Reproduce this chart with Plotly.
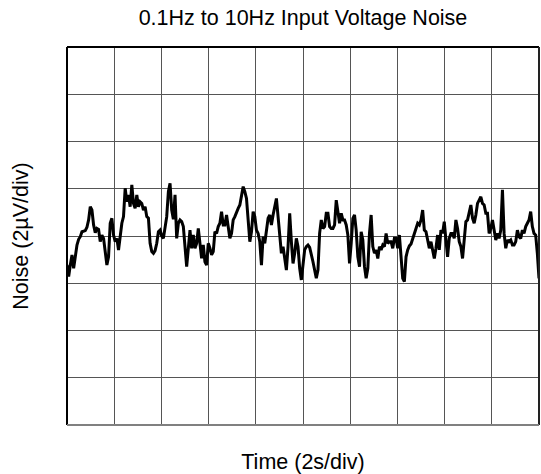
import numpy as np
import plotly.graph_objects as go

# Noise trace in microvolts, sampled uniformly over the 20 s window (10 div x 2 s)
noise_uv = [
    # 0 - 5 s
    -1.23, -1.72, -1.23, -0.80, -1.37, -0.88, -0.38, -0.14, -0.03, 0.18,
    0.20, 0.23, 0.37, 0.68, 1.24, 1.10, 0.47, 0.14, 0.32, 0.28,
    -0.24, 0.04, -0.10, -0.59, -1.23, -0.88, 0.54, 0.75, 0.04, -0.24,
    -0.10, -0.59, -0.03, 0.54, 0.82, 2.02, 1.45, 1.74, 1.24, 2.16,
    1.38, 1.17, 1.74, 1.24, 1.45, 1.38, 1.10, 1.24, 0.82, 0.75,
    -0.31, -0.66, -0.73, -0.62, -0.31, 0.18, 0.25, 0.00, -0.10, 0.28,
    0.82, 1.88, 2.23, 1.10, 0.71, 1.74, -0.10, 0.54,
    # 5 - 10 s
    0.68, 0.61, 0.40, -0.45, -1.30, -0.52, 0.25, -0.52, 0.04, -0.52,
    -0.31, 0.32, -0.45, -0.95, -0.38, -1.09, -1.23, -0.31, -0.52, -0.80,
    -0.66, 0.18, 0.11, 0.40, 0.54, 1.03, 0.47, 0.47, 0.89, 0.40,
    -0.10, 0.11, 0.68, 0.82, 1.03, 1.17, 1.31, 1.74, 2.09, 1.88,
    1.59, 0.68, -0.24, 0.18, 1.03, 0.82, 0.25, 0.11, -0.24, -1.23,
    -0.03, -0.31, 0.18, 0.75, 0.89, 0.47, 0.89, 1.31, 1.59, 0.82,
    -0.17, -0.73, -0.45, -1.09, -1.44, -0.45, 0.96, -0.24, -1.16, -0.73,
    -0.10, -0.45,
    # 10 - 15 s
    -1.37, -1.86, -1.16, -0.59, -0.45, -0.38, -0.48, -0.73, -1.09, -1.44,
    -1.79, -1.44, 0.11, 0.68, 0.32, 0.40, 0.96, 0.96, 0.40, 0.32,
    0.32, 0.47, 1.52, 1.03, 0.54, 0.96, 0.68, 0.68, 0.47, 0.04,
    -1.16, -0.31, 0.75, 0.89, 0.25, -0.88, -1.30, 0.18, -0.17, -1.30,
    -1.79, -1.37, 0.11, 0.89, -0.45, -0.73, -0.59, -0.95, -0.45, -0.59,
    -0.38, -0.45, 0.11, -0.31, -0.24, -0.24, -0.52, -0.10, -0.10, -0.52,
    0.04, -0.88, -1.79, -1.93, -0.88, -0.59, -0.42, -0.34, -0.10, 0.18,
    0.32, 0.54,
    # 15 - 20 s
    0.47, 0.68, 1.10, 0.25, 0.18, -0.17, -0.52, -0.24, -0.59, -0.95,
    -0.52, 0.04, -0.59, 0.25, 0.11, 0.61, -0.17, -0.88, -0.10, 0.11,
    0.11, -0.10, 0.68, 0.32, -0.24, -0.45, -0.95, 0.04, 0.61, 0.68,
    0.96, 1.31, 0.75, 0.54, 0.89, 1.38, 1.52, 1.66, 1.38, 1.31,
    0.96, 0.96, 0.11, 0.32, 0.68, 0.32, -0.17, 0.11, -0.10, 0.25,
    1.95, 0.11, -0.52, -0.17, -0.24, -0.17, -0.38, -0.38, -0.24, 0.25,
    -0.03, -0.10, 0.25, 0.11, 0.40, 0.54, 0.68, 1.03, 0.40, 0.11,
    0.04, -0.73, -1.79,
]
time_s = np.linspace(0, 20, len(noise_uv))

x_range = [0, 20]   # 10 divisions x 2 s
y_range = [-8, 8]   # 8 divisions x 2 uV

title_text = "0.1Hz to 10Hz Input Voltage Noise"
x_title = "Time (2s/div)"
y_title = "Noise (2µV/div)"

FONT = "Liberation Sans, Arial, sans-serif"
FS = 21.5

fig = go.Figure()
fig.add_trace(go.Scatter(
    x=time_s, y=noise_uv, mode="lines",
    line=dict(color="black", width=3),
    showlegend=False, hoverinfo="skip",
))

grid = "#555555"
fig.update_layout(
    width=541, height=474,
    margin=dict(l=67, r=1.5, t=47, b=49),
    paper_bgcolor="white", plot_bgcolor="white",
    font=dict(family=FONT, size=FS, color="black"),
    title=dict(text=title_text, x=0.5, xref="paper", xanchor="center",
               y=1 - 10 / 474, yanchor="top", font=dict(family=FONT, size=FS)),
    xaxis=dict(range=x_range, dtick=2, showgrid=True, gridcolor=grid, gridwidth=1,
               showticklabels=False, ticks="", zeroline=False, showline=False,
               automargin=False, fixedrange=True,
               title=dict(text=x_title, standoff=29, font=dict(family=FONT, size=FS))),
    yaxis=dict(range=y_range, dtick=2, showgrid=True, gridcolor=grid, gridwidth=1,
               showticklabels=False, ticks="", zeroline=False, showline=False,
               automargin=False, fixedrange=True,
               title=dict(text=y_title, standoff=31, font=dict(family=FONT, size=FS))),
    shapes=[
        dict(type="line", xref="paper", yref="paper", x0=0, x1=0, y0=0, y1=1,
             line=dict(color="black", width=2)),
        dict(type="line", xref="paper", yref="paper", x0=0, x1=1, y0=1, y1=1,
             line=dict(color="black", width=2)),
        dict(type="line", xref="paper", yref="paper", x0=1, x1=1, y0=0, y1=1,
             line=dict(color="#222222", width=2)),
        dict(type="line", xref="paper", yref="paper", x0=0, x1=1, y0=0, y1=0,
             line=dict(color="#808080", width=2)),
    ],
)

fig.write_html(
    "out.html",
    config={"displayModeBar": False},
    post_script="document.body.style.margin='0';document.body.style.overflow='hidden';",
)
